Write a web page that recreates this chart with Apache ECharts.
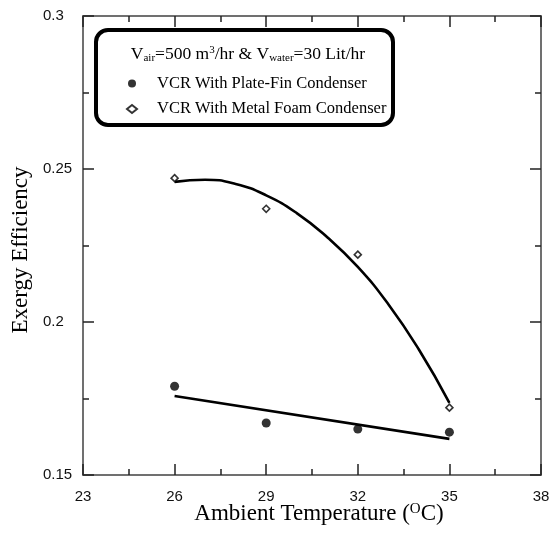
<!DOCTYPE html>
<html>
<head>
<meta charset="utf-8">
<script src="https://cdn.jsdelivr.net/npm/echarts@6/dist/echarts.min.js"></script>
<style>
  html, body { margin: 0; padding: 0; background: #fff; }
  #chart { width: 555px; height: 534px; }
</style>
</head>
<body>
<div id="chart"></div>
<script>
// Measured points
const temperature = [26, 29, 32, 35];
const plateFinEff = [0.179, 0.167, 0.165, 0.164];
const metalFoamEff = [0.247, 0.237, 0.222, 0.172];

// Trend lines
const plateTrendT = [26, 35];
const plateTrendEff = [0.1758, 0.1618];
const foamTrendT = [26, 27, 28, 29, 30, 31, 32, 33, 34, 35];
const foamTrendEff = [0.2458, 0.2465, 0.2451, 0.2414, 0.2356, 0.2277, 0.2180, 0.2058, 0.1910, 0.1736];

// Axis ticks
const xMajor = [23, 26, 29, 32, 35, 38];
const xMinor = [24.5, 27.5, 30.5, 33.5, 36.5];
const yMajor = [0.15, 0.2, 0.25, 0.3];
const yMinor = [0.175, 0.225, 0.275];

const seriesNames = ['VCR With Plate-Fin Condenser', 'VCR With Metal Foam Condenser'];

const pairs = (xs, ys) => xs.map((x, i) => [x, ys[i]]);

const SERIF = '"Liberation Serif", "Times New Roman", serif';
const SANS = '"Liberation Sans", Arial, sans-serif';
const LINE_COLOR = '#707070';
const TICK_COLOR = '#222';

function xAxisDef(position, ticks, len, showLine, showLabel, extra) {
  return Object.assign({
    type: 'value', position: position, min: 23, max: 38,
    splitLine: { show: false },
    axisLine: { show: showLine, lineStyle: { color: LINE_COLOR, width: 2 } },
    axisTick: { show: true, inside: true, length: len, customValues: ticks,
                lineStyle: { color: TICK_COLOR, width: 1.5 } },
    axisLabel: showLabel
      ? { show: true, customValues: ticks, margin: 14, fontFamily: SANS, fontSize: 15, color: '#111' }
      : { show: false }
  }, extra || {});
}

function yAxisDef(position, ticks, len, showLine, showLabel, extra) {
  return Object.assign({
    type: 'value', position: position, min: 0.15, max: 0.3,
    splitLine: { show: false },
    axisLine: { show: showLine, lineStyle: { color: LINE_COLOR, width: 2 } },
    axisTick: { show: true, inside: true, length: len, customValues: ticks,
                lineStyle: { color: TICK_COLOR, width: 1.5 } },
    axisLabel: showLabel
      ? { show: true, customValues: ticks, margin: 40, align: 'left',
          fontFamily: SANS, fontSize: 15, color: '#111' }
      : { show: false }
  }, extra || {});
}

const chart = echarts.init(document.getElementById('chart'), null, { renderer: 'canvas' });

chart.setOption({
  backgroundColor: '#fff',
  animation: false,
  grid: { left: 83, right: 14, top: 16, bottom: 59, containLabel: false, outerBoundsMode: 'none' },
  title: {
    left: 243, top: 38, textAlign: 'center',
    text: '{n|V}{s|air}{n|=500 m}{p|3}{n|/hr & V}{s|water}{n|=30 Lit/hr}',
    textStyle: {
      fontWeight: 'normal',
      rich: {
        n: { fontFamily: SERIF, fontSize: 17.5, fontWeight: 'normal', color: '#000', lineHeight: 22 },
        s: { fontFamily: SERIF, fontSize: 11, fontWeight: 'normal', color: '#000', lineHeight: 22, padding: [8, 0, 0, 0] },
        p: { fontFamily: SERIF, fontSize: 11, fontWeight: 'normal', color: '#000', lineHeight: 22, padding: [0, 0, 8, 0] }
      }
    }
  },
  legend: {
    orient: 'vertical',
    left: 121, top: 70,
    itemWidth: 10, itemHeight: 8, itemGap: 8.5,
    symbolKeepAspect: true,
    data: seriesNames,
    textStyle: { fontFamily: SERIF, fontSize: 16.5, color: '#000', lineHeight: 16, padding: [0, 0, 0, 15] }
  },
  graphic: [{
    type: 'rect', z: 10,
    shape: { x: 96, y: 30, width: 297, height: 95, r: 12 },
    style: { fill: 'none', stroke: '#000', lineWidth: 4 }
  }],
  xAxis: [
    xAxisDef('bottom', xMajor, 11, true, true, {
      name: 'Ambient Temperature ({sup|O}C)',
      nameLocation: 'middle', nameGap: 27, nameMoveOverlap: false,
      nameTextStyle: {
        fontFamily: SERIF, fontSize: 23, color: '#000', padding: [0, 0, 0, 14],
        rich: { sup: { fontFamily: SERIF, fontSize: 15, color: '#000', padding: [0, 0, 8, 0] } }
      }
    }),
    xAxisDef('bottom', xMinor, 6, false, false),
    xAxisDef('top', xMajor, 11, true, false),
    xAxisDef('top', xMinor, 6, false, false)
  ],
  yAxis: [
    yAxisDef('left', yMajor, 11, true, true, {
      name: 'Exergy Efficiency',
      nameLocation: 'middle', nameGap: 51, nameMoveOverlap: false,
      nameTextStyle: { fontFamily: SERIF, fontSize: 23, color: '#000', padding: [0, 9, 0, 0] }
    }),
    yAxisDef('left', yMinor, 6, false, false),
    yAxisDef('right', yMajor, 11, true, false),
    yAxisDef('right', yMinor, 6, false, false)
  ],
  series: [
    {
      name: seriesNames[0], type: 'scatter', xAxisIndex: 0, yAxisIndex: 0,
      symbol: 'circle', symbolSize: 9,
      itemStyle: { color: '#000' },
      data: pairs(temperature, plateFinEff), z: 5
    },
    {
      name: seriesNames[1], type: 'scatter', xAxisIndex: 0, yAxisIndex: 0,
      symbol: 'diamond', symbolSize: 7,
      itemStyle: { color: '#fff', borderColor: '#000', borderWidth: 1.6 },
      data: pairs(temperature, metalFoamEff), z: 5
    },
    {
      name: 'plate-trend', type: 'line', xAxisIndex: 0, yAxisIndex: 0,
      showSymbol: false, symbol: 'none', silent: true,
      lineStyle: { color: '#000', width: 2.6 },
      data: pairs(plateTrendT, plateTrendEff), z: 4
    },
    {
      name: 'foam-trend', type: 'line', xAxisIndex: 0, yAxisIndex: 0,
      showSymbol: false, symbol: 'none', silent: true, smooth: 0.5,
      lineStyle: { color: '#000', width: 2.6 },
      data: pairs(foamTrendT, foamTrendEff), z: 4
    }
  ]
});
</script>
</body>
</html>
